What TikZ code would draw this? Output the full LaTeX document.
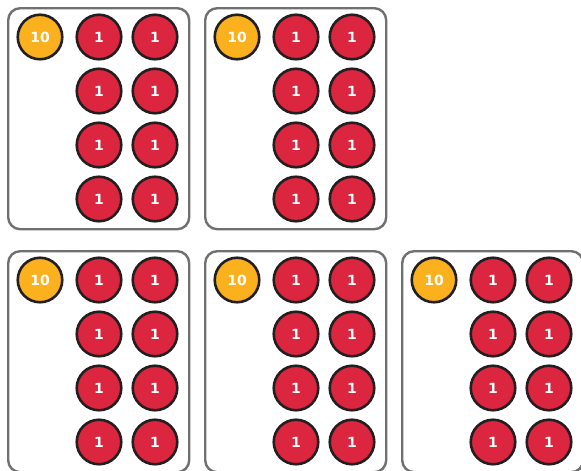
\documentclass[tikz,border=0pt]{standalone}
\usepackage{fontspec}
\usepackage{tikz}
\newfontfamily\chipfont{DejaVu Sans}
\definecolor{chipRed}{RGB}{220,37,62}
\definecolor{chipOrange}{RGB}{250,177,29}
\definecolor{chipEdge}{RGB}{35,31,32}
\definecolor{trayGray}{RGB}{112,112,112}

\begin{document}
\begin{tikzpicture}[x=1pt,y=-1pt,
    tray/.style={draw=trayGray,line width=2.4pt,rounded corners=12pt,inner sep=0pt,
      minimum width=181pt,minimum height=221pt,anchor=north west},
    chip/.style={circle,draw=chipEdge,line width=2.6pt,minimum size=44.5pt,inner sep=0pt,
      text=white,font=\chipfont\bfseries\fontsize{14}{16}\selectfont},
    ten/.style={chip,fill=chipOrange},
    one/.style={chip,fill=chipRed}
  ]
  \useasboundingbox (0,0) rectangle (581,471);
  \clip (0,0) rectangle (581,471);
  % five trays: one ten and eight ones each
  \foreach \t/\x/\y in {1/7/7,2/204/7,3/7/250,4/204/250,5/401/250}{
    \node[tray] (tray\t) at (\x,\y) {};
    \node[ten] (ten\t) at ([shift={(33,30)}]tray\t.north west) {10};
    \foreach \r in {0,...,3}{
      \node[one] (one\t a\r) at ([shift={(92,30+54*\r)}]tray\t.north west) {1};
      \node[one] (one\t b\r) at ([shift={(148,30+54*\r)}]tray\t.north west) {1};
    }
  }
\end{tikzpicture}
\end{document}
